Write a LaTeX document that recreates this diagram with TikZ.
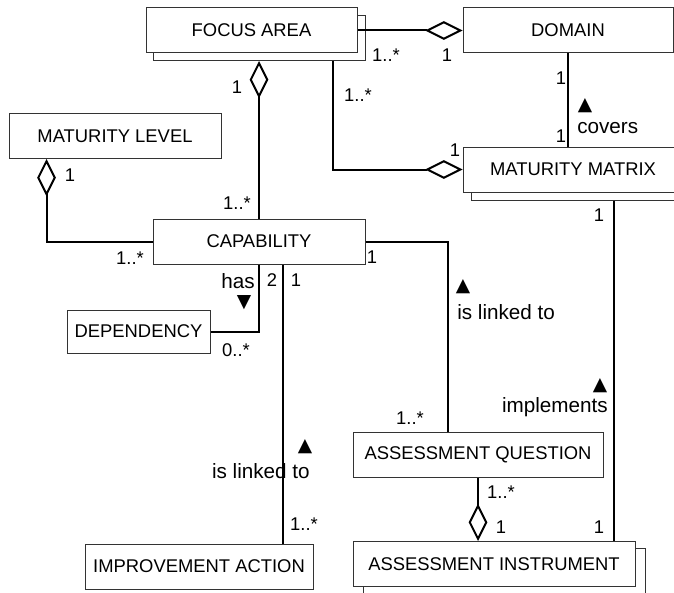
\documentclass[tikz,border=0pt]{standalone}
\usepackage{fontspec}
\setmainfont{Liberation Sans}
\newfontfamily\symfont{DejaVu Sans}
\usepackage{tikz}
\usetikzlibrary{arrows.meta,shapes,calc}
\tikzstyle{class} = [rectangle, draw=black!80, line width=0.75pt, fill=white, minimum height=33.75pt, inner sep=0pt, font=\fontsize{13.8}{16}\selectfont]
\tikzstyle{link} = [line width=1.5pt, black]
\tikzstyle{agg} = [link, {Diamond[open,length=28pt,width=14pt]}-]
\tikzstyle{mult} = [inner sep=0pt, font=\fontsize{13.8}{16}\selectfont]
\tikzstyle{role} = [inner sep=0pt, font=\fontsize{15.5}{18}\selectfont]
\tikzstyle{dir} = [inner sep=0pt, font=\symfont\fontsize{14}{16}\selectfont]

\begin{document}
\begin{tikzpicture}[x=0.75pt, y=-0.75pt]
\useasboundingbox (0,0) rectangle (674,592);

% Classes with a copy behind them
\node (focusS) [class, minimum width=159pt] at (259,38) {};
\node (focus) [class, minimum width=158.25pt] at (251.5,30) {FOCUS AREA};
\node (matmatrixS) [class, minimum width=165pt] at (581,177.5) {};
\node (matmatrix) [class, minimum width=165pt] at (573,169.5) {MATURITY MATRIX};
\node (instrumentS) [class, minimum width=211.5pt] at (504,571) {};
\node (instrument) [class, minimum width=211.5pt] at (494,564) {ASSESSMENT INSTRUMENT};

% Plain classes
\node (domain) [class, minimum width=157.5pt] at (568,30.5) {DOMAIN};
\node (matlevel) [class, minimum width=159pt] at (115,136) {MATURITY LEVEL};
\node (capability) [class, minimum width=159pt] at (259,241.5) {CAPABILITY};
\node (dependency) [class, minimum width=107.25pt, minimum height=32.25pt] at (138.5,331.5) {DEPENDENCY};
\node (improvement) [class, minimum width=171pt] at (199,566.5) {IMPROVEMENT ACTION};
\node (question) [class, minimum width=187.5pt] at (478,454.5) {ASSESSMENT QUESTION};

% Connection points
\coordinate (focusOut) at ($(focusS.south west)+(180,0)$);
\coordinate (levelOut) at ($(matlevel.south west)+(38,0)$);
\coordinate (matrixOut) at ($(matmatrixS.south)+(33,0)$);
\coordinate (capOut) at ($(capability.south)+(24,0)$);
\coordinate (questionIn) at ($(question.north west)+(95,0)$);

% Aggregations
\draw[agg] (domain.west) -- (domain.west -| focus.east);
\draw[agg] (capability.north |- focusS.south) -- (capability.north);
\draw[agg] (matmatrix.west) -| (focusOut);
\draw[agg] (levelOut) |- (capability.west);
\draw[agg] (question.south |- instrument.north) -- (question.south);

% Associations
\draw[link] (domain.south) -- (domain.south |- matmatrix.north);
\draw[link] (matrixOut) -- (matrixOut |- instrument.north);
\draw[link] (capability.east) -| (questionIn);
\draw[link] (capability.south) |- (dependency.east);
\draw[link] (capOut) -- (capOut |- improvement.north);

% Multiplicities
\node (mFocusDom) [mult] at (386,55) {1..*};
\node (mDomFocus) [mult] at (447,55) {1};
\node (mFocusCap) [mult] at (237,87) {1};
\node (mFocusMat) [mult] at (358,95) {1..*};
\node (mMatFocus) [mult] at (455,150) {1};
\node (mDomMat) [mult] at (561,78) {1};
\node (mMatDom) [mult] at (561,136) {1};
\node (mLevel) [mult] at (70,175) {1};
\node (mCapFocus) [mult] at (237,203) {1..*};
\node (mCapLevel) [mult] at (130,258) {1..*};
\node (mCapDep) [mult] at (272,280) {2};
\node (mCapImp) [mult] at (296,280) {1};
\node (mDep) [mult] at (236,350) {0..*};
\node (mCapQ) [mult] at (372,257) {1};
\node (mMatInst) [mult] at (599,215) {1};
\node (mQCap) [mult] at (410,418) {1..*};
\node (mQInst) [mult] at (501,492) {1..*};
\node (mInstQ) [mult] at (501,527) {1};
\node (mInstMat) [mult] at (599,527) {1};
\node (mImp) [mult] at (304,524) {1..*};

% Association names
\node (tCovers) [dir] at (585,106) {▲};
\node (lCovers) [role, anchor=base west] at (577,133) {covers};
\node (lHas) [role, anchor=base] at (238,288) {has};
\node (tHas) [dir] at (244,303) {▼};
\node (tLinkQ) [dir] at (463,287) {▲};
\node (lLinkQ) [role, anchor=base west] at (457,319) {is linked to};
\node (tImpl) [dir] at (600,386) {▲};
\node (lImpl) [role, anchor=base east] at (608,412) {implements};
\node (tLinkI) [dir] at (305,447) {▲};
\node (lLinkI) [role, anchor=base east] at (310,478) {is linked to};
\end{tikzpicture}
\end{document}
